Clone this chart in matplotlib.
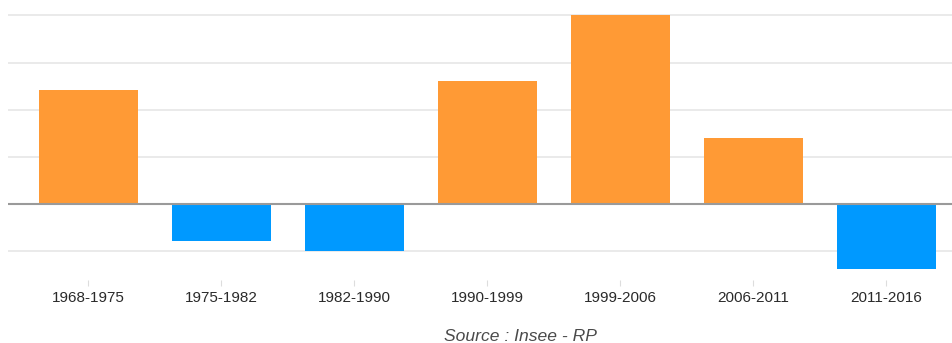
import matplotlib.pyplot as plt
import numpy as np

plt.rcParams['font.family'] = ['Liberation Sans', 'DejaVu Sans']

periods = ['1968-1975', '1975-1982', '1982-1990', '1990-1999',
           '1999-2006', '2006-2011', '2011-2016']
variation = [2.41, -0.78, -0.99, 2.61, 4.0, 1.41, -1.38]

COLOR_POS = '#FF9A35'
COLOR_NEG = '#0099FF'

fig = plt.figure(figsize=(9.53, 3.43), dpi=100)
ax = fig.add_axes([0.0084, 1 - 280 / 343, 1 - 0.0084, (280 - 13) / 343])

x = np.arange(len(periods))
colors = [COLOR_POS if v >= 0 else COLOR_NEG for v in variation]
ax.bar(x, variation, width=0.75, color=colors, zorder=2)

# light horizontal grid, darker baseline at zero
for yv in [-1, 1, 2, 3, 4]:
    ax.axhline(yv, color='#e6e6e6', linewidth=1.2, zorder=1)
ax.axhline(0, color='#9a9a9a', linewidth=1.5, zorder=3)

ax.set_xlim(-0.605, 6.5)
ax.set_ylim(-1.61, 4.05)

ax.set_xticks(x)
ax.set_xticklabels(periods, fontsize=11, color='#2a2a2a')
ax.tick_params(axis='x', length=4.3, width=0.8, color='#dddddd', pad=3.6)
ax.set_yticks([])
for side in ['top', 'right', 'left', 'bottom']:
    ax.spines[side].set_visible(False)

fig.text(520 / 953, 1 - 336.5 / 343, 'Source : Insee - RP', ha='center', va='center',
         fontsize=12.6, style='italic', color='#4a4a4a')

fig.savefig('out.png', dpi=100)
